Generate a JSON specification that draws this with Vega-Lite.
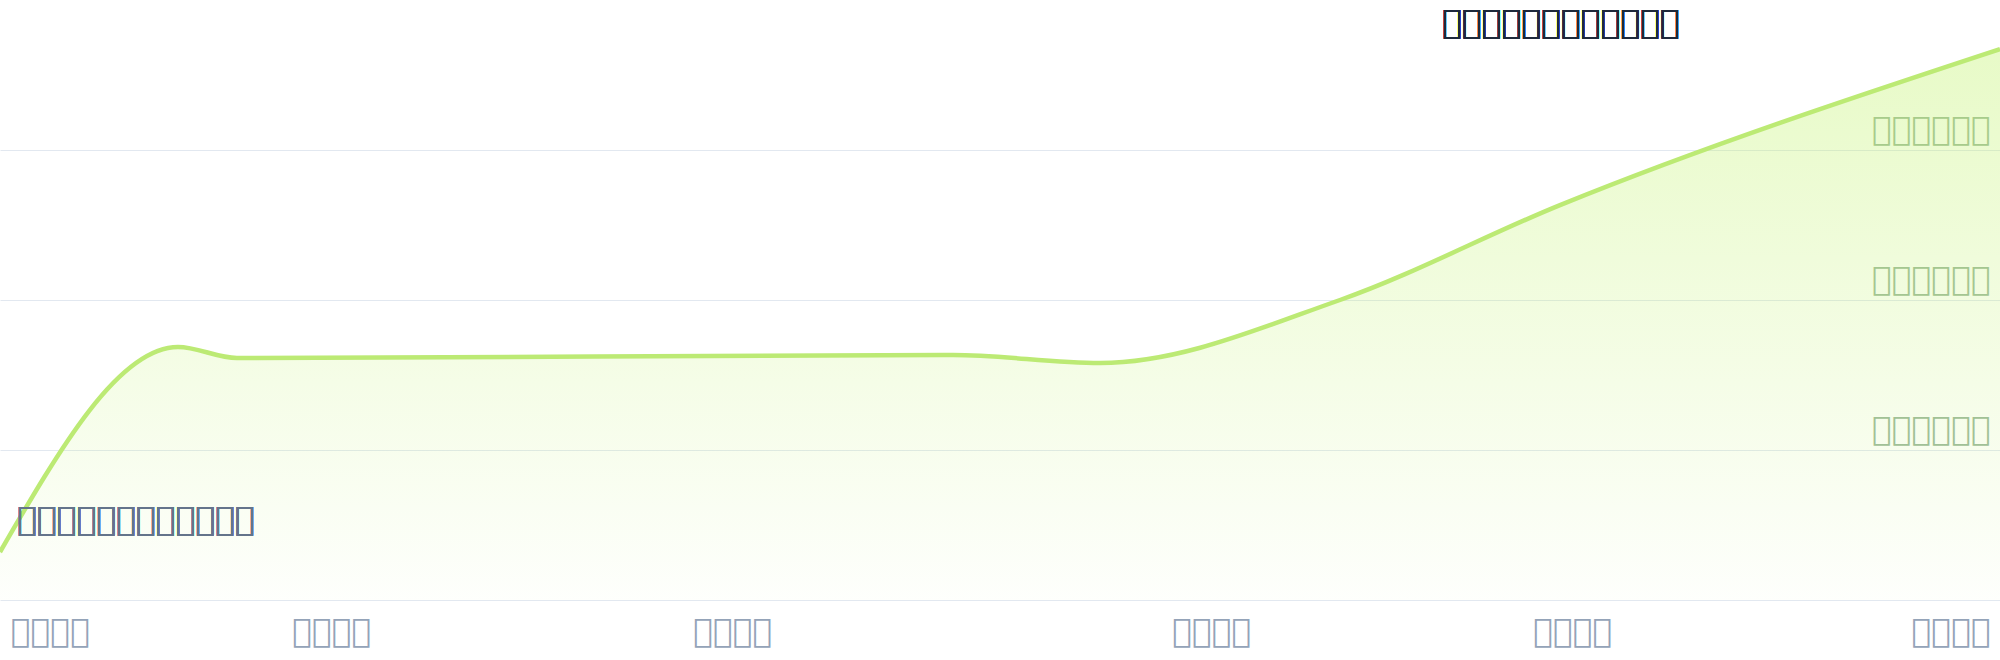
{
  "$schema": "https://vega.github.io/schema/vega-lite/v6.json",
  "width": 2000,
  "height": 600,
  "autosize": {"type": "none"},
  "padding": {"left": 0, "top": 0, "right": 0, "bottom": 60},
  "background": "white",
  "config": {"view": {"stroke": null}, "font": "DejaVu Sans"},
  "data": {
    "values": [
      {"t": 0, "v": 0.32},
      {"t": 178, "v": 1.687},
      {"t": 237, "v": 1.613},
      {"t": 953, "v": 1.633},
      {"t": 1100, "v": 1.58},
      {"t": 1340, "v": 2.0},
      {"t": 1560, "v": 2.633},
      {"t": 2000, "v": 3.673}
    ]
  },
  "encoding": {
    "x": {
      "field": "t",
      "type": "quantitative",
      "scale": {"domain": [0, 2000], "nice": false},
      "axis": {
        "title": null,
        "values": [0, 331, 732, 1211, 1572, 2000],
        "labelExpr": "datum.value == 0 ? '\uE101\uE102\uE103\uE104' : datum.value == 331 ? '\uE111\uE112\uE113\uE114' : datum.value == 732 ? '\uE121\uE122\uE123\uE124' : datum.value == 1211 ? '\uE131\uE132\uE133\uE134' : datum.value == 1572 ? '\uE141\uE142\uE143\uE144' : '\uE151\uE152\uE153\uE154'",
        "grid": false,
        "ticks": false,
        "domain": false,
        "labelFlush": true,
        "labelFlushOffset": -10,
        "labelBaseline": "alphabetic",
        "labelPadding": 41,
        "labelFont": "DejaVu Sans",
        "labelFontSize": 33,
        "labelColor": "#94a3b8"
      }
    },
    "y": {
      "field": "v",
      "type": "quantitative",
      "scale": {"domain": [0, 4], "nice": false},
      "axis": {
        "title": null,
        "orient": "right",
        "values": [0, 1, 2, 3],
        "labelExpr": "['', '\uE201\uE202\uE203\uE204\uE205\uE206', '\uE211\uE212\uE213\uE214\uE215\uE216', '\uE221\uE222\uE223\uE224\uE225\uE226'][datum.value]",
        "grid": true,
        "gridColor": "#e2e8f0",
        "gridWidth": 1,
        "ticks": false,
        "domain": false,
        "labelAlign": "right",
        "labelPadding": -10,
        "labelBaseline": "alphabetic",
        "labelOffset": -11,
        "labelFont": "DejaVu Sans",
        "labelFontSize": 33,
        "labelColor": "#9dba9d"
      }
    }
  },
  "layer": [
    {
      "mark": {
        "type": "area",
        "interpolate": "monotone",
        "color": {
          "gradient": "linear",
          "x1": 0, "y1": 0, "x2": 0, "y2": 1,
          "stops": [
            {"offset": 0, "color": "rgba(190,242,100,0.36)"},
            {"offset": 1, "color": "rgba(190,242,100,0.02)"}
          ]
        }
      }
    },
    {
      "mark": {"type": "line", "interpolate": "monotone", "color": "#bcea74", "strokeWidth": 4.5, "clip": true}
    },
    {
      "mark": {"type": "text", "text": "\uE001\uE002\uE003\uE004\uE005\uE006\uE007\uE008\uE009\uE00A\uE00B\uE00C", "align": "left", "baseline": "alphabetic", "font": "DejaVu Sans", "fontSize": 33, "color": "#1e293b"},
      "encoding": {"x": {"datum": 1442}, "y": {"datum": 3.78}}
    },
    {
      "mark": {"type": "text", "text": "\uE011\uE012\uE013\uE014\uE015\uE016\uE017\uE018\uE019\uE01A\uE01B\uE01C", "align": "left", "baseline": "alphabetic", "font": "DejaVu Sans", "fontSize": 33, "color": "#64748b"},
      "encoding": {"x": {"datum": 17}, "y": {"datum": 0.467}}
    }
  ]
}
